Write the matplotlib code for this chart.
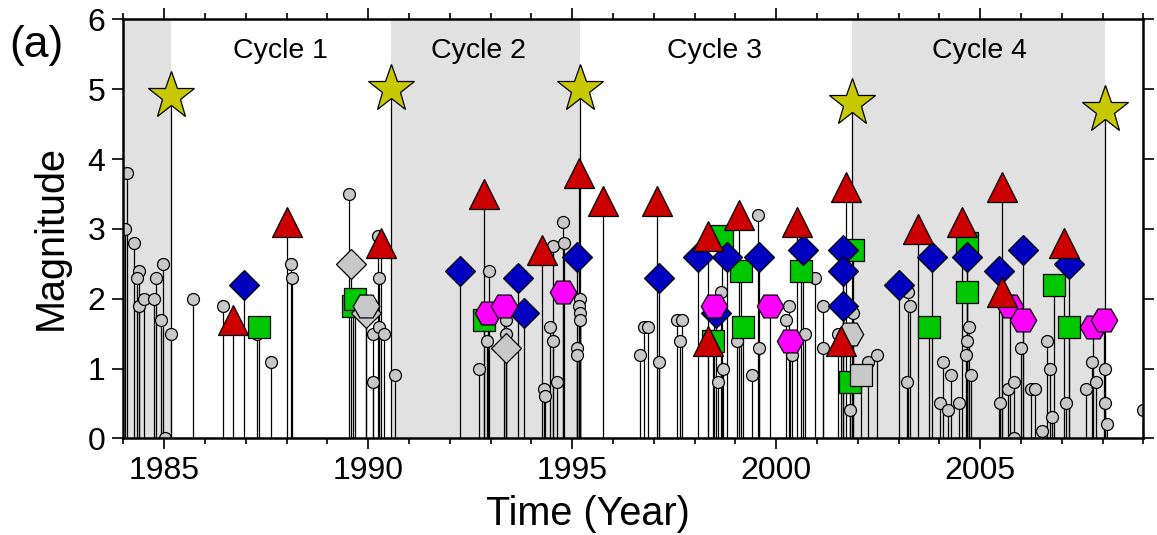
import matplotlib
matplotlib.use('Agg')
import matplotlib.pyplot as plt
from matplotlib.ticker import MultipleLocator
import numpy as np

plt.rcParams['font.family'] = ['Liberation Sans', 'DejaVu Sans']

# Hintergrund-Ereignisse (graue Kreise)
circle_year = [1984.10, 1984.04, 1984.25, 1984.39, 1984.34, 1984.39, 1984.51, 1984.75,
               1984.79, 1984.96, 1984.93, 1985.16, 1985.01, 1985.70, 1986.44, 1987.28,
               1987.62, 1988.12, 1988.14, 1989.54, 1990.25, 1990.27, 1990.12, 1990.26,
               1990.39, 1990.12, 1990.66,
               1992.96, 1992.71, 1992.91, 1993.38, 1993.38, 1994.52, 1994.45, 1994.53,
               1994.31, 1994.33, 1994.63, 1994.77, 1994.80, 1995.19, 1995.17, 1995.20,
               1995.20, 1995.13, 1995.13,
               1996.66, 1996.76, 1996.87, 1997.14, 1997.57, 1997.69, 1997.65, 1998.64,
               1998.69, 1998.57, 1999.05, 1999.41, 1999.57, 1999.56, 2000.32, 2000.23,
               2000.70, 2000.40, 2000.95, 2001.15, 2001.15, 2001.52, 2001.89, 2001.82,
               2002.24, 2002.48,
               2003.24, 2003.28, 2003.20, 2004.08, 2004.28, 2004.02, 2004.22, 2004.47,
               2004.73, 2004.68, 2004.66, 2004.78, 2005.49, 2005.69, 2005.82, 2005.82,
               2006.00, 2006.25, 2006.35, 2006.51, 2006.64, 2006.72, 2006.76, 2007.10,
               2007.74, 2007.60, 2007.84, 2008.05, 2008.05, 2008.10, 2008.98]
circle_mag = [3.8, 3.0, 2.8, 2.4, 2.3, 1.9, 2.0, 2.0,
              2.3, 2.5, 1.7, 1.5, 0.0, 2.0, 1.9, 1.5,
              1.1, 2.5, 2.3, 3.5, 2.9, 2.3, 1.5, 1.6,
              1.5, 0.8, 0.9,
              2.4, 1.0, 1.4, 1.7, 1.5, 2.75, 1.6, 1.4,
              0.7, 0.6, 0.8, 3.1, 2.8, 2.0, 1.9, 1.8,
              1.7, 1.3, 1.2,
              1.2, 1.6, 1.6, 1.1, 1.7, 1.7, 1.4, 2.1,
              1.0, 0.8, 1.4, 0.9, 1.3, 3.2, 1.9, 1.7,
              1.5, 1.2, 2.3, 1.9, 1.3, 1.5, 1.8, 0.4,
              1.1, 1.2,
              2.1, 1.9, 0.8, 1.1, 0.9, 0.5, 0.4, 0.5,
              1.6, 1.4, 1.2, 0.9, 0.5, 0.7, 0.8, 0.0,
              1.3, 0.7, 0.7, 0.1, 1.4, 1.0, 0.3, 0.5,
              1.1, 0.7, 0.8, 1.0, 0.5, 0.2, 0.4]

tri_year = [1986.70, 1988.01, 1990.31, 1992.83, 1994.25, 1995.18, 1995.75, 1997.08,
            1998.34, 1998.34, 1999.10, 2000.52, 2001.72, 2001.58, 2003.48, 2004.56,
            2005.53, 2005.53, 2007.06]
tri_mag = [1.7, 3.1, 2.8, 3.5, 2.7, 3.8, 3.4, 3.4,
           2.9, 1.4, 3.2, 3.1, 3.6, 1.4, 3.0, 3.1,
           3.6, 2.1, 2.8]

dia_year = [1986.96, 1992.25, 1993.68, 1993.81, 1995.12, 1997.12, 1998.08, 1998.80,
            1998.53, 1999.59, 2000.66, 2001.64, 2001.64, 2001.64, 2003.02, 2003.81,
            2004.68, 2005.45, 2006.04, 2007.17]
dia_mag = [2.2, 2.4, 2.3, 1.8, 2.6, 2.3, 2.6, 2.6,
           1.8, 2.6, 2.7, 2.7, 2.4, 1.9, 2.2, 2.6,
           2.6, 2.4, 2.7, 2.5]

sq_year = [1987.32, 1989.62, 1989.68, 1992.84, 1998.67, 1998.45, 1999.14, 1999.19,
           2000.62, 2001.89, 2001.80, 2003.74, 2004.68, 2004.68, 2006.82, 2007.18]
sq_mag = [1.6, 1.9, 2.0, 1.7, 2.9, 1.4, 2.4, 1.6,
          2.4, 2.7, 0.8, 1.6, 2.8, 2.1, 2.2, 1.6]

hex_year = [1992.94, 1993.33, 1994.77, 1998.47, 1999.86, 2000.34, 2005.72, 2006.04,
            2007.76, 2008.04]
hex_mag = [1.8, 1.9, 2.1, 1.9, 1.9, 1.4, 1.9, 1.7, 1.6, 1.7]

gdia_year = [1989.59, 1989.95, 1993.39]
gdia_mag = [2.5, 1.8, 1.3]
ghex_year = [1989.95, 2001.82]
ghex_mag = [1.9, 1.5]
gsq_year = [2002.07]
gsq_mag = [0.9]

star_year = [1985.16, 1990.55, 1995.20, 2001.87, 2008.05]
star_mag = [4.9, 5.0, 5.0, 4.8, 4.7]

cycle_labels = ['Cycle 1', 'Cycle 2', 'Cycle 3', 'Cycle 4']
cycle_x = [1987.86, 1992.70, 1998.50, 2004.99]


def main():
    fig = plt.figure(figsize=(11.57, 5.35), dpi=100)
    ax = fig.add_axes([0.1066, 0.1807, 0.8816, 0.7829])

    # graue Zyklusbereiche
    ax.axvspan(1984, star_year[0], color='#e1e1e1', zorder=0, lw=0)
    ax.axvspan(star_year[1], star_year[2], color='#e1e1e1', zorder=0, lw=0)
    ax.axvspan(star_year[3], star_year[4], color='#e1e1e1', zorder=0, lw=0)

    all_x = circle_year + tri_year + dia_year + sq_year + hex_year + gdia_year + ghex_year + gsq_year + star_year
    all_y = circle_mag + tri_mag + dia_mag + sq_mag + hex_mag + gdia_mag + ghex_mag + gsq_mag + star_mag
    ax.vlines(all_x, 0, all_y, color='black', lw=0.9, zorder=1)

    ec = 'black'
    mew = 0.9
    ax.plot(circle_year, circle_mag, 'o', ms=8.6, mfc='#c8c8c8', mec=ec, mew=mew, zorder=2)
    ax.plot(sq_year, sq_mag, 's', ms=15.3, mfc='#00c800', mec=ec, mew=mew, zorder=3)
    ax.plot(gdia_year, gdia_mag, 'D', ms=15.3, mfc='#c8c8c8', mec=ec, mew=mew, zorder=4)
    ax.plot(ghex_year, ghex_mag, 'H', ms=19, mfc='#c8c8c8', mec=ec, mew=mew, zorder=4)
    ax.plot(gsq_year, gsq_mag, 's', ms=15.3, mfc='#c8c8c8', mec=ec, mew=mew, zorder=4)
    ax.plot(dia_year, dia_mag, 'D', ms=15.3, mfc='#0000c0', mec=ec, mew=mew, zorder=5)
    ax.plot(hex_year, hex_mag, 'H', ms=19, mfc='#ff00ff', mec=ec, mew=mew, zorder=6)
    ax.plot(tri_year, tri_mag, '^', ms=21.5, mfc='#cc0000', mec=ec, mew=mew, zorder=7)
    ax.plot(star_year, star_mag, '*', ms=35.5, mfc='#c8c800', mec=ec, mew=mew, zorder=8)

    for lab, cx in zip(cycle_labels, cycle_x):
        ax.text(cx, 5.55, lab, fontsize=20.5, ha='center', va='center', zorder=9)

    ax.set_xlim(1984, 2009)
    ax.set_ylim(0, 6)
    ax.xaxis.set_major_locator(MultipleLocator(5))
    ax.xaxis.set_minor_locator(MultipleLocator(1))
    ax.yaxis.set_major_locator(MultipleLocator(1))
    ax.tick_params(which='both', direction='out', top=True, right=True, labelsize=23, width=1.2)
    ax.tick_params(which='major', length=8, pad=5)
    ax.tick_params(which='minor', length=4)
    for s in ax.spines.values():
        s.set_linewidth(1.8)
        s.set_zorder(10)

    ax.set_xlabel('Time (Year)', fontsize=28.5)
    ax.xaxis.set_label_coords(0.4556, -0.135)
    ax.set_ylabel('Magnitude', fontsize=28.5)
    ax.yaxis.set_label_coords(-0.053, 0.48)

    fig.text(0.008, 0.915, '(a)', fontsize=32, ha='left', va='center')

    fig.savefig('out.png', dpi=100)


if __name__ == '__main__':
    main()
